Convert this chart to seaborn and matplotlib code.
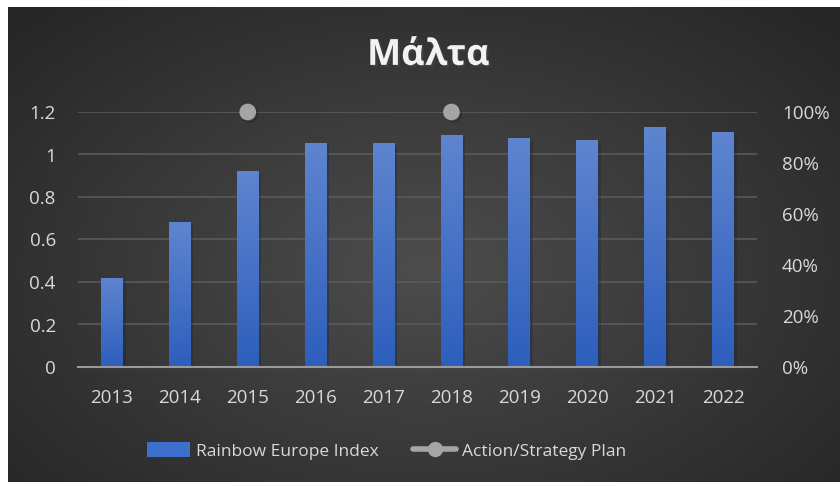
import numpy as np
import pandas as pd
import seaborn as sns
import matplotlib.pyplot as plt
from matplotlib.lines import Line2D
from matplotlib.patches import Patch
import matplotlib.patheffects as pe

years = ["2013", "2014", "2015", "2016", "2017", "2018", "2019", "2020", "2021", "2022"]
rainbow_index = [0.42, 0.68, 0.92, 1.055, 1.055, 1.09, 1.078, 1.068, 1.13, 1.106]
action_plan = [np.nan, np.nan, 1.0, np.nan, np.nan, 1.0, np.nan, np.nan, np.nan, np.nan]
left_ticks = [0, 0.2, 0.4, 0.6, 0.8, 1, 1.2]
left_labels = ["0", "0.2", "0.4", "0.6", "0.8", "1", "1.2"]
right_ticks = [0, 0.2, 0.4, 0.6, 0.8, 1.0]
right_labels = ["0%", "20%", "40%", "60%", "80%", "100%"]

sns.set_theme(style="dark")
plt.rcParams["font.family"] = ["Open Sans", "Noto Sans", "DejaVu Sans"]
txt = "#d9d9d9"

fig = plt.figure(figsize=(8.4, 4.86), dpi=100, facecolor="white")

# dark radial background panel
bg = fig.add_axes([8 / 840, 4 / 486, 832 / 840, 475 / 486])
gx, gy = np.meshgrid(np.linspace(-1, 1, 400), np.linspace(-1, 1, 240))
r = np.clip(np.sqrt(gx ** 2 + ((gy - 0.1) * 0.9) ** 2) / 1.35, 0, 1)
shade = 0.30 - 0.15 * r
bg.imshow(np.dstack([shade, shade, shade]), aspect="auto", extent=[0, 1, 0, 1])
bg.set_axis_off()

ax = fig.add_axes([78 / 840, 1 - 367 / 486, 679 / 840, 255 / 486])
ax.set_facecolor("none")
df = pd.DataFrame({"year": years, "value": rainbow_index})
sns.barplot(data=df, x="year", y="value", color="#3f6fcc", width=0.32, ax=ax,
            saturation=1, linewidth=0, zorder=3)

# vertical gradient inside each bar
grad = np.linspace(0, 1, 100).reshape(-1, 1)
top_c = np.array([0.37, 0.52, 0.81])
bot_c = np.array([0.18, 0.37, 0.74])
img = top_c * (1 - grad[:, :, None]) + bot_c * grad[:, :, None]
for p in ax.patches:
    p.set_edgecolor("none")
    x0, y0 = p.get_x(), p.get_y()
    w, h = p.get_width(), p.get_height()
    im = ax.imshow(img, extent=[x0, x0 + w, y0, y0 + h], aspect="auto", zorder=4)
    im.set_clip_path(p)
    p.set_path_effects([pe.SimplePatchShadow(offset=(2, -2), alpha=0.3), pe.Normal()])

ax.set_xlim(-0.5, 9.5)
ax.set_ylim(0, 1.2)
ax.set_yticks(left_ticks)
ax.set_yticklabels(left_labels)
ax.set_xlabel("")
ax.set_ylabel("")
ax.grid(axis="y", color="#5a5a5a", linewidth=1.2, zorder=0)
ax.grid(axis="x", visible=False)
for s in ["top", "right", "left"]:
    ax.spines[s].set_visible(False)
ax.spines["bottom"].set_color("#9a9a9a")
ax.spines["bottom"].set_linewidth(1.5)
ax.spines["bottom"].set_zorder(5)
ax.tick_params(axis="both", colors=txt, labelsize=13.5, length=0)
ax.tick_params(axis="x", pad=16)
ax.tick_params(axis="y", pad=16)

ax2 = ax.twinx()
ax2.set_ylim(0, 1.0)
ax2.set_yticks(right_ticks)
ax2.set_yticklabels(right_labels)
ax2.tick_params(axis="y", colors=txt, labelsize=13.5, length=0, pad=18)
for s in ax2.spines.values():
    s.set_visible(False)
ax2.plot(range(len(years)), action_plan, marker="o", markersize=11, color="#a5a5a5",
         linewidth=3, zorder=6, clip_on=False,
         path_effects=[pe.SimpleLineShadow(offset=(1.5, -1.5), alpha=0.4), pe.Normal()])
ax2.grid(False)

fig.text(0.51, 0.885, "Μάλτα", ha="center", va="center", fontsize=26, fontweight="bold",
         color="#f2f2f2",
         path_effects=[pe.withSimplePatchShadow(offset=(1.5, -1.5), alpha=0.5)])

handles = [Patch(facecolor="#3f6fcc", edgecolor="none", label="Rainbow Europe Index"),
           Line2D([0], [0], color="#a5a5a5", linewidth=4, marker="o", markersize=10,
                  label="Action/Strategy Plan")]
leg = fig.legend(handles=handles, loc="center", bbox_to_anchor=(0.46, 1 - 451 / 486),
                 ncol=2, frameon=False, fontsize=12.5, handlelength=2.5, handleheight=0.9,
                 columnspacing=2.0, handletextpad=0.3)
for t in leg.get_texts():
    t.set_color(txt)

fig.savefig("out.png", dpi=100, facecolor="white")
